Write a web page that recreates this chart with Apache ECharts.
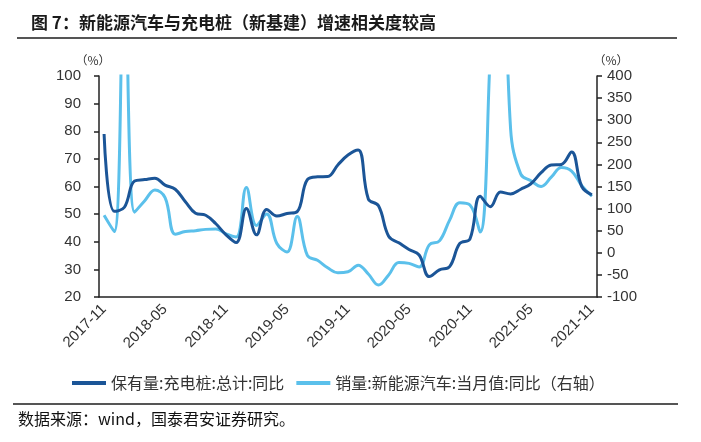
<!DOCTYPE html>
<html>
<head>
<meta charset="utf-8">
<script src="https://cdn.jsdelivr.net/npm/echarts@6/dist/echarts.min.js"></script>
<style>html,body{margin:0;padding:0;background:#fff}#c{width:701px;height:442px}</style>
</head>
<body>
<div id="c"></div>
<script>
const months = ['2017-11','2017-12','2018-01','2018-02','2018-03','2018-04','2018-05','2018-06','2018-07','2018-08','2018-09','2018-10','2018-11','2018-12',
'2019-01','2019-02','2019-03','2019-04','2019-05','2019-06','2019-07','2019-08','2019-09','2019-10','2019-11','2019-12',
'2020-01','2020-02','2020-03','2020-04','2020-05','2020-06','2020-07','2020-08','2020-09','2020-10','2020-11','2020-12',
'2021-01','2021-02','2021-03','2021-04','2021-05','2021-06','2021-07','2021-08','2021-09','2021-10','2021-11'];
const pileYoY = [79,51,52.5,62,62.5,63,60.5,59,54.5,50.3,49.6,46.5,42.5,39.7,52,42.5,51.7,49.3,50.2,50.9,62.5,63.5,63.6,67.8,71.4,73.2,55.5,53,42,39.6,37.2,35.2,27.4,29.8,31,39.4,41,56.5,52.7,58,57.3,59,61,65,67.8,68,72.5,60,57];
const salesYoY = [85,48,650,92,118,142,125,42,48,50,53,54,43,36,148,62,88,21,2,82,-6,-17,-34,-45,-43,-28,-48,-73,-50,-22,-24,-32,18,27,74,113,108,47,450,900,280,178,163,150,171,193,185,152,128];
const leftTicks = {min: 20, max: 100, interval: 10};
const rightTicks = {min: -100, max: 400, interval: 50};
const seriesNames = ['保有量:充电桩:总计:同比', '销量:新能源汽车:当月值:同比（右轴）'];
const titleText = '图 7：新能源汽车与充电桩（新基建）增速相关度较高';
const sourceText = '数据来源：wind，国泰君安证券研究。';

const cjk = '"Noto Sans CJK SC", sans-serif';
const num = '"Liberation Sans", Arial, sans-serif';
const chart = echarts.init(document.getElementById('c'), null, {renderer: 'canvas'});
chart.setOption({
  animation: false,
  backgroundColor: '#fff',
  title: [{
    text: titleText, left: 26, top: 9,
    textStyle: {fontFamily: cjk, fontSize: 17, fontWeight: 'bold', color: '#1a1a1a'}
  }],
  graphic: [
    {type: 'line', shape: {x1: 17, y1: 38, x2: 677, y2: 38}, style: {stroke: '#555', lineWidth: 2}},
    {type: 'line', shape: {x1: 13, y1: 404, x2: 678, y2: 404}, style: {stroke: '#555', lineWidth: 2}},
    {type: 'text', left: 18, top: 411, style: {text: sourceText, font: '16px ' + cjk, fill: '#111'}}
  ],
  legend: {
    left: 67, top: 370, icon: 'rect', itemWidth: 34, itemHeight: 4, itemGap: 12,
    textStyle: {fontFamily: cjk, fontSize: 16, color: '#333'},
    data: seriesNames
  },
  grid: {left: 99, right: 104, top: 76, bottom: 145, containLabel: false},
  xAxis: {
    type: 'category', data: months, boundaryGap: true,
    axisLine: {onZero: false, lineStyle: {color: '#222', width: 1.5}},
    axisTick: {interval: 5, length: 5, lineStyle: {color: '#222', width: 1.5}},
    axisLabel: {interval: 5, rotate: 45, margin: 10, fontFamily: num, fontSize: 15, color: '#333'}
  },
  yAxis: [{
    type: 'value', min: leftTicks.min, max: leftTicks.max, interval: leftTicks.interval,
    name: '（%）', nameGap: 10, nameTextStyle: {fontFamily: cjk, fontSize: 12, color: '#333', padding: [0, 12, 0, 0]},
    axisLine: {show: true, onZero: false, lineStyle: {color: '#222', width: 1.5}},
    axisTick: {show: true, length: 5, lineStyle: {color: '#222', width: 1.5}},
    axisLabel: {margin: 18, fontFamily: num, fontSize: 15, color: '#333'},
    splitLine: {show: false}
  }, {
    type: 'value', position: 'right', min: rightTicks.min, max: rightTicks.max, interval: rightTicks.interval,
    name: '（%）', nameGap: 10, nameTextStyle: {fontFamily: cjk, fontSize: 12, color: '#333', padding: [0, 0, 0, 28]},
    axisLine: {show: true, onZero: false, lineStyle: {color: '#222', width: 1.5}},
    axisTick: {show: true, length: 5, lineStyle: {color: '#222', width: 1.5}},
    axisLabel: {margin: 10, fontFamily: num, fontSize: 15, color: '#333'},
    splitLine: {show: false}
  }],
  series: [{
    name: seriesNames[0], type: 'line', yAxisIndex: 0, data: pileYoY,
    smooth: 0.4, showSymbol: false, symbol: 'none', clip: true,
    lineStyle: {color: '#1B5597', width: 3}, itemStyle: {color: '#1B5597'}, z: 3
  }, {
    name: seriesNames[1], type: 'line', yAxisIndex: 1, data: salesYoY,
    smooth: 0.4, showSymbol: false, symbol: 'none', clip: true,
    lineStyle: {color: '#5BC0EB', width: 3}, itemStyle: {color: '#5BC0EB'}, z: 2
  }]
});
</script>
</body>
</html>
